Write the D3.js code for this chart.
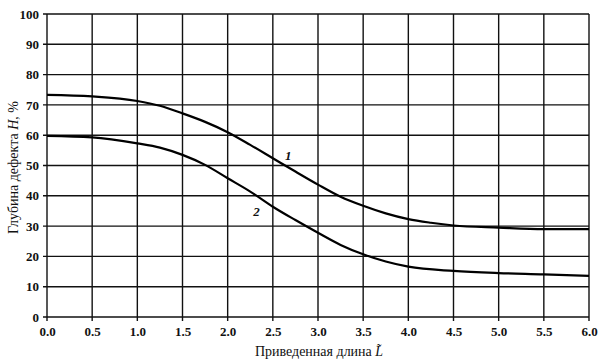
<!DOCTYPE html>
<html>
<head>
<meta charset="utf-8">
<script src="https://cdn.jsdelivr.net/npm/d3@7"></script>
<style>
  html, body { margin: 0; padding: 0; background: #fff; }
  svg { display: block; }
</style>
</head>
<body>
<svg id="chart" width="605" height="363"></svg>
<script>
// ---- data ----
const xTicks = [0, 0.5, 1, 1.5, 2, 2.5, 3, 3.5, 4, 4.5, 5, 5.5, 6];
const xTickLabels = ["0.0","0.5","1.0","1.5","2.0","2.5","3.0","3.5","4.0","4.5","5.0","5.5","6.0"];
const yTicks = [0, 10, 20, 30, 40, 50, 60, 70, 80, 90, 100];

const curve1X = [0, 0.5, 1.0, 1.25, 1.5, 1.75, 2.0, 2.25, 2.5, 2.75, 3.0, 3.25, 3.5, 3.75, 4.0, 4.25, 4.5, 5.0, 5.5, 6.0];
const curve1Y = [73.3, 72.8, 71.3, 69.7, 67.2, 64.4, 61.0, 56.8, 52.4, 48.0, 43.7, 39.7, 36.7, 34.2, 32.3, 31.1, 30.2, 29.5, 29.0, 29.0];

const curve2X = [0, 0.5, 1.0, 1.25, 1.5, 1.75, 2.0, 2.25, 2.5, 2.75, 3.0, 3.25, 3.5, 3.75, 4.0, 4.5, 5.0, 5.5, 6.0];
const curve2Y = [59.8, 59.3, 57.3, 55.9, 53.5, 50.2, 45.8, 41.4, 36.4, 32.0, 27.8, 23.8, 20.7, 18.3, 16.6, 15.2, 14.5, 14.1, 13.6];

const curveLabels = [
  { text: "1", x: 2.67, y: 52.8 },
  { text: "2", x: 2.32, y: 34.4 }
];

const xTitle = "Приведенная длина ";
const xTitleVar = "L\u0303";
const yTitle = "Глубина дефекта ";
const yTitleVar = "H";
const yTitleTail = ", %";

// ---- layout ----
const svg = d3.select("#chart");
const margin = { left: 47, right: 16, top: 14, bottom: 46 };
const W = 605, H = 363;
const x = d3.scaleLinear().domain([0, 6]).range([margin.left, W - margin.right]);
const y = d3.scaleLinear().domain([0, 100]).range([H - margin.bottom, margin.top]);

const serif = "'Liberation Serif', 'DejaVu Serif', serif";

// grid
const g = svg.append("g");
g.selectAll(".vgrid").data(xTicks).enter().append("line")
  .attr("x1", d => x(d)).attr("x2", d => x(d))
  .attr("y1", y(100)).attr("y2", y(0) + 4)
  .attr("stroke", "#111").attr("stroke-width", 1.4);
g.selectAll(".hgrid").data(yTicks).enter().append("line")
  .attr("y1", d => y(d)).attr("y2", d => y(d))
  .attr("x1", x(0) - 4).attr("x2", x(6))
  .attr("stroke", "#111").attr("stroke-width", 1.4);

// axes labels via d3 axes (no domain / tick lines)
const xAxis = svg.append("g")
  .attr("transform", `translate(0,${y(0)})`)
  .call(d3.axisBottom(x).tickValues(xTicks).tickFormat((d, i) => xTickLabels[i]).tickSize(0).tickPadding(10));
const yAxis = svg.append("g")
  .attr("transform", `translate(${x(0)},0)`)
  .call(d3.axisLeft(y).tickValues(yTicks).tickSize(0).tickPadding(8));
[xAxis, yAxis].forEach(a => {
  a.select(".domain").remove();
  a.selectAll("text")
    .attr("font-family", serif)
    .attr("font-size", 13)
    .attr("font-weight", "bold")
    .attr("fill", "#111");
});

// curves
const line = d3.line().curve(d3.curveMonotoneX).x(d => x(d[0])).y(d => y(d[1]));
const c1 = curve1X.map((v, i) => [v, curve1Y[i]]);
const c2 = curve2X.map((v, i) => [v, curve2Y[i]]);
[c1, c2].forEach(c => {
  svg.append("path").datum(c).attr("d", line)
    .attr("fill", "none").attr("stroke", "#000").attr("stroke-width", 2.2)
    .attr("stroke-linejoin", "round");
});

// curve labels
svg.selectAll(".clabel").data(curveLabels).enter().append("text")
  .attr("x", d => x(d.x)).attr("y", d => y(d.y))
  .attr("text-anchor", "middle").attr("dominant-baseline", "middle")
  .attr("font-family", serif).attr("font-style", "italic").attr("font-weight", "bold")
  .attr("font-size", 13).attr("fill", "#111")
  .text(d => d.text);

// x title
const xt = svg.append("text")
  .attr("x", (x(0) + x(6)) / 2 + 1).attr("y", 356)
  .attr("text-anchor", "middle")
  .attr("font-family", serif).attr("font-size", 14).attr("fill", "#111");
xt.append("tspan").text(xTitle);
xt.append("tspan").attr("font-style", "italic").text(xTitleVar);

// y title
const yt = svg.append("text")
  .attr("transform", `translate(18,${(y(0) + y(100)) / 2 + 2}) rotate(-90)`)
  .attr("text-anchor", "middle")
  .attr("font-family", serif).attr("font-size", 14).attr("fill", "#111");
yt.append("tspan").text(yTitle);
yt.append("tspan").attr("font-style", "italic").text(yTitleVar);
yt.append("tspan").text(yTitleTail);
</script>
</body>
</html>
